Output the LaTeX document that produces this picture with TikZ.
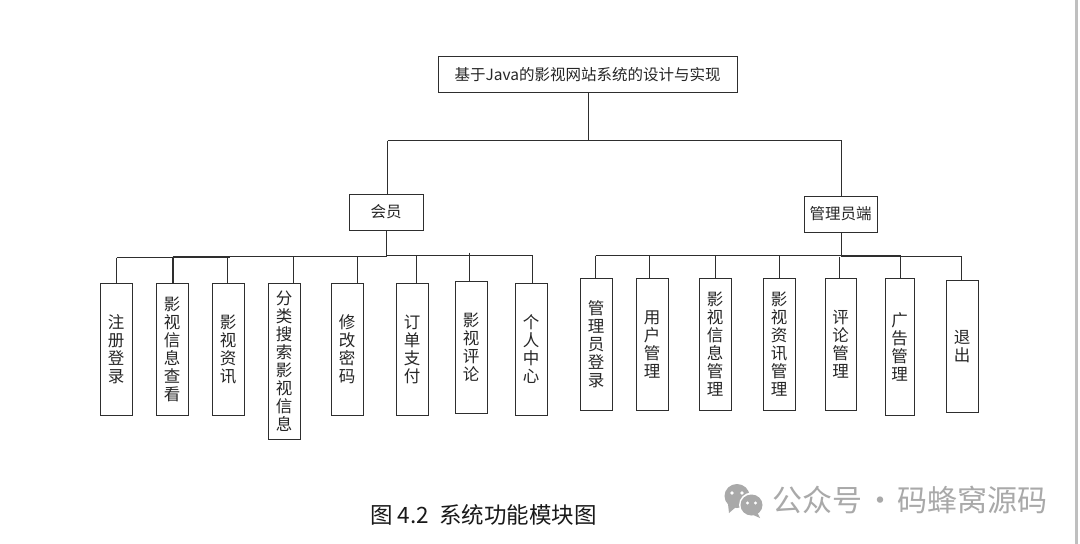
\documentclass[tikz,border=0pt]{standalone}
\usepackage{fontspec}
\setmainfont{Noto Sans CJK SC}
\newfontfamily\cjk{Noto Sans CJK SC}
\definecolor{lnk}{HTML}{2E2E2E}
\definecolor{wm}{HTML}{A9A9A9}
\tikzset{
  box/.style={draw=lnk,line width=1.2pt,inner sep=0pt,align=center,text=black!85,anchor=north west},
  vbox/.style={box,font=\fontsize{16.5}{18}\cjk},
  hbox/.style={box,font=\fontsize{15.5}{18}\cjk},
  wire/.style={draw=lnk,line width=1.2pt},
  thickwire/.style={draw=lnk,line width=2pt},
}
\newcommand{\bx}[7]{\node[#1,minimum width=#4-#3,minimum height=#6-#5] (#2) at (#3,#5) {#7};}
\begin{document}
\begin{tikzpicture}[x=1pt,y=-1pt]
\useasboundingbox (1,1) rectangle (1081,545);
\fill[white] (0,0) rectangle (1082,546);
\fill[black!25] (1076,0) rectangle (1079,546);
% top level
\bx{hbox}{root}{438.5}{737.5}{56.5}{92.5}{基于Java的影视网站系统的设计与实现}
\bx{hbox}{mem}{349.5}{423.5}{194.5}{230.5}{会员}
\bx{hbox}{adm}{804.5}{877.5}{196.5}{232.5}{管理员端}
% member boxes
\bx{vbox}{a1}{100.5}{132.5}{283.5}{415.5}{注\\册\\登\\录}
\bx{vbox}{a2}{156.5}{188.5}{283.5}{415.5}{影\\视\\信\\息\\查\\看}
\bx{vbox}{a3}{212.5}{244.5}{283.5}{415.5}{影\\视\\资\\讯}
\bx{vbox}{a4}{268.5}{300.5}{283.5}{439.5}{分\\类\\搜\\索\\影\\视\\信\\息}
\bx{vbox}{a5}{331.5}{363.5}{283.5}{415.5}{修\\改\\密\\码}
\bx{vbox}{a6}{396.5}{428.5}{283.5}{415.5}{订\\单\\支\\付}
\bx{vbox}{a7}{455.5}{487.5}{281.5}{413.5}{影\\视\\评\\论}
\bx{vbox}{a8}{515.5}{547.5}{283.5}{415.5}{个\\人\\中\\心}
% admin boxes
\bx{vbox}{b1}{580.5}{612.5}{278.5}{410.5}{管\\理\\员\\登\\录}
\bx{vbox}{b2}{636.5}{668.5}{278.5}{410.5}{用\\户\\管\\理}
\bx{vbox}{b3}{699.5}{731.5}{278.5}{410.5}{影\\视\\信\\息\\管\\理}
\bx{vbox}{b4}{763.5}{795.5}{278.5}{410.5}{影\\视\\资\\讯\\管\\理}
\bx{vbox}{b5}{825.5}{856.5}{278.5}{410.5}{评\\论\\管\\理}
\bx{vbox}{b6}{885.5}{914.5}{278.5}{415.5}{广\\告\\管\\理}
\bx{vbox}{b7}{946.5}{978.5}{280.5}{412.5}{退\\出}
% bus coordinates
\coordinate (top) at (589.5,141.5);
\coordinate (topL) at (388.5,141.5);
\coordinate (topR) at (842.5,141.5);
\coordinate (a1t) at (117.5,258.5);
\coordinate (a2t) at (173.5,257.5);
\coordinate (a3t) at (228.5,258.5);
\coordinate (a3e) at (230.5,258.5);
\coordinate (a4t) at (294.5,257.5);
\coordinate (a5t) at (358.5,257.5);
\coordinate (amid) at (387.5,257.5);
\coordinate (a6t) at (417.5,256.5);
\coordinate (a7t) at (470.5,253.5);
\coordinate (a8t) at (533.5,256.5);
\coordinate (b1t) at (596.5,256.5);
\coordinate (b2t) at (650.5,256.5);
\coordinate (b3t) at (716.5,256.5);
\coordinate (b4t) at (780.5,256.5);
\coordinate (bmid) at (842.5,257.5);
\coordinate (b5t) at (840.5,257.5);
\coordinate (b6t) at (901.5,257.5);
\coordinate (b7t) at (962.5,257.5);
% connectors
\draw[wire] (root.south -| top) -- (top);
\draw[wire] (topL) -- (topR);
\draw[wire] (topL) -- (topL |- mem.north);
\draw[wire] (topR) -- (topR |- adm.north);
\draw[wire] (mem.south -| amid) -- (amid);
\draw[wire] (a1t) -- (a3e);
\draw[wire] (a2t) -- (amid);
\draw[wire] (amid) -- (amid |- a6t) -- (a8t);
\draw[thickwire] (a2t) -- (a2t |- a2.north);
\foreach \c/\n in {a1t/a1,a3t/a3,a4t/a4,a5t/a5,a6t/a6,a7t/a7,a8t/a8}{
  \draw[wire] (\c) -- (\c |- \n.north);
}
\draw[wire] (adm.south -| bmid) -- (bmid);
\draw[wire] (b1t) -- (b6t |- b1t);
\draw[wire] (bmid) -- (b7t);
\foreach \c/\n in {b1t/b1,b2t/b2,b3t/b3,b4t/b4,b5t/b5,b6t/b6,b7t/b7}{
  \draw[wire] (\c) -- (\c |- \n.north);
}
% caption
\node[font=\fontsize{22.5}{24}\cjk,text=black!90,inner sep=0pt] (cap) at (484.5,516) {图 4.2\hspace{0.45em}系统功能模块图};
% watermark
\node[font=\fontsize{30}{32}\cjk,text=wm,inner sep=0pt,anchor=west] (wmk) at (773.5,501) {公众号\hspace{0.08em}·\hspace{0.08em}码蜂窝源码};
\fill[wm] (738,497) ellipse (12.5 and 12);
\fill[wm] (729,505) -- (730,514) -- (737,508) -- cycle;
\fill[white] (752.5,506) circle (12.5);
\fill[wm] (752.5,506) ellipse (11 and 10.5);
\fill[wm] (758,513) -- (761,519) -- (752,515) -- cycle;
\fill[white] (733,494) circle (1.8) (743,494) circle (1.8) (748.5,504) circle (1.6) (756.5,504) circle (1.6);
\end{tikzpicture}
\end{document}
